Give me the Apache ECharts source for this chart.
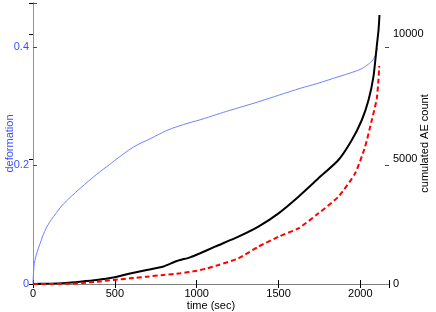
<!DOCTYPE html>
<html><head><meta charset="utf-8">
<script src="https://cdn.jsdelivr.net/npm/echarts@6/dist/echarts.min.js"></script>
<style>html,body{margin:0;padding:0;background:#fff}#c{width:436px;height:312px}</style>
</head><body><div id="c"></div>
<script>
var xTicks = [0, 500, 1000, 1500, 2000];
var leftTicks = [0, 0.2, 0.4];
var rightTicks = [0, 5000, 10000];

var blueTime = [0, 3, 12, 43, 84, 145, 186, 287, 389, 470, 512, 614, 716, 818, 920, 1021, 1123, 1204, 1326, 1418, 1530, 1632, 1734, 1836, 1938, 1999, 2040, 2070, 2090, 2105];
var blueVal = [0, 0.018, 0.040, 0.068, 0.096, 0.121, 0.135, 0.161, 0.185, 0.202, 0.211, 0.231, 0.245, 0.259, 0.269, 0.277, 0.286, 0.293, 0.303, 0.311, 0.321, 0.330, 0.338, 0.347, 0.356, 0.362, 0.369, 0.376, 0.385, 0.398];

var blackTime = [0, 100, 200, 287, 389, 491, 593, 695, 797, 879, 960, 1021, 1112, 1255, 1377, 1500, 1622, 1744, 1866, 1948, 2009, 2050, 2080, 2100, 2111, 2117];
var blackVal = [0, 15, 45, 93, 160, 260, 420, 560, 700, 920, 1067, 1230, 1493, 1893, 2293, 2827, 3493, 4227, 4960, 5760, 6560, 7360, 8293, 9493, 10160, 10760];

var redTime = [0, 200, 300, 389, 491, 593, 695, 797, 899, 1000, 1061, 1133, 1255, 1377, 1500, 1622, 1744, 1866, 1968, 2029, 2070, 2100, 2111, 2115];
var redVal = [0, 10, 40, 93, 160, 227, 293, 360, 427, 533, 620, 760, 1027, 1493, 1893, 2227, 2827, 3493, 4427, 5493, 6560, 7400, 8200, 8720];

function pairs(t, v) { return t.map(function (x, i) { return [x, v[i]]; }); }
function fmt(list) {
  return function (v) {
    for (var i = 0; i < list.length; i++) { if (Math.abs(list[i] - v) < 1e-9) return String(list[i]); }
    return '';
  };
}

var font = 'Liberation Sans, Arial, sans-serif';
var chart = echarts.init(document.getElementById('c'), null, {renderer: 'canvas'});
chart.setOption({
  animation: false,
  backgroundColor: '#ffffff',
  grid: {left: 33, right: 47, top: 3, bottom: 28, containLabel: false, outerBoundsMode: 'none'},
  xAxis: [{
    type: 'value', min: 0, max: 2175, interval: 500,
    name: 'time (sec)', nameLocation: 'middle', nameGap: 16, nameMoveOverlap: false,
    nameTextStyle: {color: '#000', fontFamily: font, fontSize: 11, verticalAlign: 'top'},
    axisLine: {lineStyle: {color: '#000', width: 1}},
    axisTick: {inside: true, length: 4, lineStyle: {color: '#000'}},
    axisLabel: {color: '#000', fontFamily: font, fontSize: 11, margin: 4, formatter: fmt(xTicks)},
    splitLine: {show: false}
  }, {
    type: 'value', min: 0, max: 2175, interval: 500, position: 'top',
    axisLine: {show: true, lineStyle: {color: '#808080', width: 1}},
    axisTick: {inside: true, length: 4, lineStyle: {color: '#000'}},
    axisLabel: {show: false},
    splitLine: {show: false}
  }],
  yAxis: [{
    type: 'value', min: 0, max: 0.474, interval: 0.2, position: 'left',
    name: 'deformation', nameLocation: 'middle', nameGap: 18, nameRotate: 90, nameMoveOverlap: false,
    nameTextStyle: {color: '#3a50ff', fontFamily: font, fontSize: 11, verticalAlign: 'bottom'},
    axisLine: {show: true, lineStyle: {color: '#2040ff', width: 1}},
    axisTick: {show: true, inside: true, length: 4, lineStyle: {color: '#2040ff'}},
    axisLabel: {color: '#3a50ff', fontFamily: font, fontSize: 11, margin: 4, formatter: fmt(leftTicks)},
    splitLine: {show: false}
  }, {
    type: 'value', min: 0, max: 11240, interval: 5000, position: 'right',
    name: 'cumulated AE count', nameLocation: 'middle', nameGap: 30, nameRotate: 90, nameMoveOverlap: false,
    nameTextStyle: {color: '#000', fontFamily: font, fontSize: 11, verticalAlign: 'top'},
    axisLine: {show: true, lineStyle: {color: '#8090e0', width: 1}},
    axisTick: {show: true, inside: true, length: 4, lineStyle: {color: '#000'}},
    axisLabel: {color: '#000', fontFamily: font, fontSize: 11, margin: 4, formatter: fmt(rightTicks)},
    splitLine: {show: false}
  }, {
    type: 'value', min: 0, max: 0.474, interval: 0.2, position: 'right',
    axisLine: {show: false},
    axisTick: {show: true, inside: true, length: 4, customValues: [0.2, 0.4], lineStyle: {color: '#2040ff'}},
    axisLabel: {show: false},
    splitLine: {show: false}
  }],
  series: [{
    type: 'line', xAxisIndex: 0, yAxisIndex: 0, data: pairs(blueTime, blueVal),
    smooth: 0.4, showSymbol: false, symbol: 'none',
    lineStyle: {color: '#6f82ff', width: 1}
  }, {
    type: 'line', xAxisIndex: 0, yAxisIndex: 1, data: pairs(blackTime, blackVal),
    smooth: 0.2, showSymbol: false, symbol: 'none',
    lineStyle: {color: '#000', width: 2}
  }, {
    type: 'line', xAxisIndex: 0, yAxisIndex: 1, data: pairs(redTime, redVal),
    smooth: 0.2, showSymbol: false, symbol: 'none',
    lineStyle: {color: '#ff0000', width: 2, type: [5, 3]}
  }]
});
</script></body></html>
